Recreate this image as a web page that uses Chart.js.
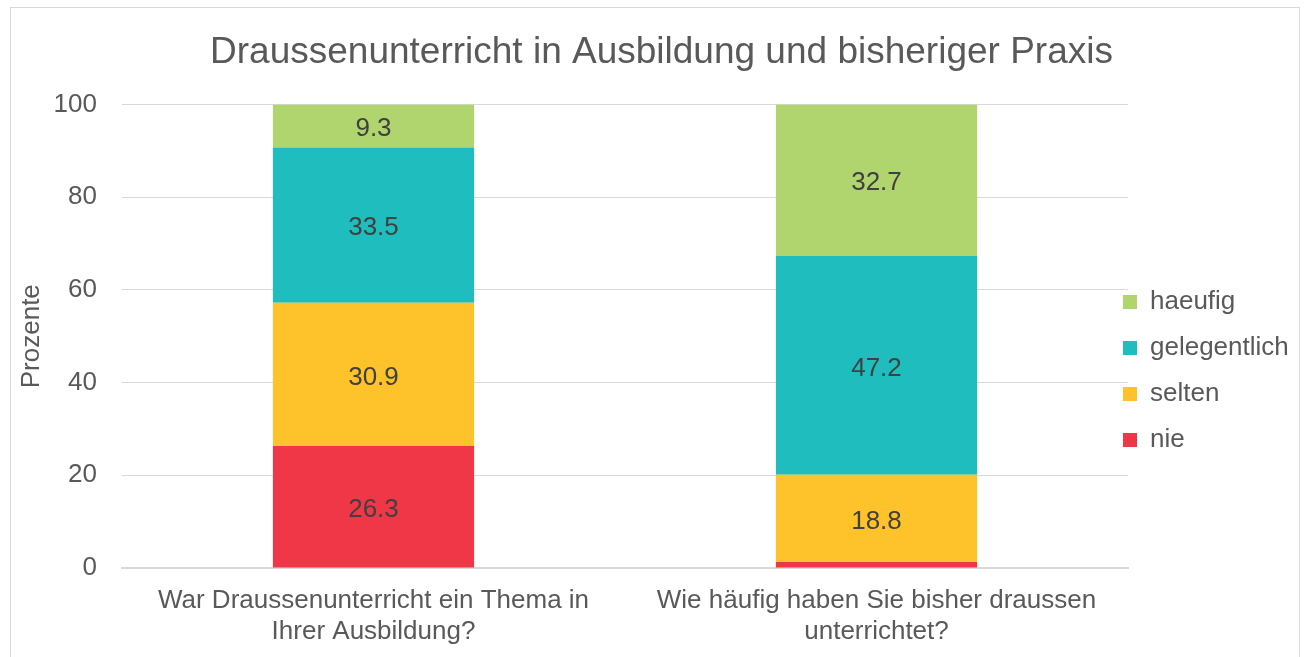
<!DOCTYPE html>
<html>
<head>
<meta charset="utf-8">
<script src="https://cdn.jsdelivr.net/npm/chart.js@4"></script>
<style>
  html, body { margin: 0; padding: 0; background: #fff; }
  body { width: 1307px; height: 657px; overflow: hidden; position: relative; }
  #frame {
    position: absolute; left: 10px; top: 7px; width: 1290px; height: 660px;
    border: 1px solid #d9d9d9; box-sizing: border-box;
  }
  #wrap { position: absolute; left: 0; top: 0; width: 1307px; height: 657px; }
</style>
</head>
<body>
<div id="frame"></div>
<div id="wrap"><canvas id="chart"></canvas></div>
<script>
// =======================
// DATA
// =======================
const categories = [
  ["War Draussenunterricht ein Thema in", "Ihrer Ausbildung?"],
  ["Wie häufig haben Sie bisher draussen", "unterrichtet?"]
];
const nie = [26.3, 1.3];
const selten = [30.9, 18.8];
const gelegentlich = [33.5, 47.2];
const haeufig = [9.3, 32.7];
const yTicks = [0, 20, 40, 60, 80, 100];

const FONT = "'Liberation Sans', Arial, sans-serif";
const GREY = "#595959";

// =======================
// LABELS IN THE BARS
// =======================
const barLabels = {
  id: "barLabels",
  afterDatasetsDraw(chart) {
    const ctx = chart.ctx;
    ctx.save();
    ctx.font = "26px " + FONT;
    ctx.fillStyle = "#404040";
    ctx.textAlign = "center";
    ctx.textBaseline = "middle";
    chart.data.datasets.forEach((ds, i) => {
      const meta = chart.getDatasetMeta(i);
      meta.data.forEach((bar, j) => {
        const v = ds.data[j];
        if (v < 3) return; // too small for a label
        const { x, y, base } = bar.getProps(["x", "y", "base"], true);
        ctx.fillText(v.toFixed(1), x, (y + base) / 2 + 3);
      });
    });
    ctx.restore();
  }
};

// legend sits tight against the plot, a bit below the middle
const legendPlace = {
  id: "legendPlace",
  beforeLayout(chart) {
    const lg = chart.legend;
    if (lg && !lg._narrow) {
      const fit = lg.fit;
      lg.fit = function () { fit.call(this); this.width = 179; };
      lg._narrow = true;
    }
  },
  afterLayout(chart) {
    const lg = chart.legend;
    lg.left -= 25;
    lg.top += 37; lg.bottom += 37;
  }
};

// =======================
// CHART
// =======================
const ctx = document.getElementById("chart").getContext("2d");
new Chart(ctx, {
  type: "bar",
  data: {
    labels: categories,
    datasets: [
      { label: "nie", data: nie, backgroundColor: "#f03748" },
      { label: "selten", data: selten, backgroundColor: "#fec22a" },
      { label: "gelegentlich", data: gelegentlich, backgroundColor: "#20bdbf" },
      { label: "haeufig", data: haeufig, backgroundColor: "#b0d56f" }
    ]
  },
  options: {
    responsive: true,
    maintainAspectRatio: false,
    animation: false,
    datasets: { bar: { barPercentage: 0.4, categoryPercentage: 1 } },
    layout: { padding: { left: 16, right: 0, top: 20, bottom: 9 } },
    plugins: {
      title: {
        display: true,
        text: "Draussenunterricht in Ausbildung und bisheriger Praxis",
        color: GREY,
        font: { family: FONT, size: 37, weight: "normal" },
        padding: { top: 11, bottom: 29 }
      },
      legend: {
        position: "right",
        reverse: true,
        labels: {
          color: GREY,
          font: { family: FONT, size: 26 },
          boxWidth: 14,
          boxHeight: 14,
          padding: 20
        }
      },
      tooltip: { enabled: false }
    },
    scales: {
      x: {
        stacked: true,
        grid: { display: false },
        border: { display: true, color: "#d9d9d9", width: 2 },
        ticks: { color: GREY, font: { family: FONT, size: 26 }, padding: 9, maxRotation: 0 },
        afterFit: s => { s.height = 80; s.paddingLeft = 0; s.paddingRight = 0; }
      },
      y: {
        stacked: true,
        min: 0,
        max: 100,
        afterBuildTicks: axis => { axis.ticks = yTicks.map(v => ({ value: v })); },
        afterFit: s => { s.width = 106; s.paddingTop = 0; s.paddingBottom = 0; },
        grid: { color: "#d9d9d9", drawTicks: false },
        border: { display: false },
        ticks: { color: GREY, font: { family: FONT, size: 26 }, padding: 25 },
        title: {
          display: true,
          text: "Prozente",
          color: GREY,
          font: { family: FONT, size: 26 },
          padding: { top: 0, bottom: 7 }
        }
      }
    }
  },
  plugins: [barLabels, legendPlace]
});
</script>
</body>
</html>
